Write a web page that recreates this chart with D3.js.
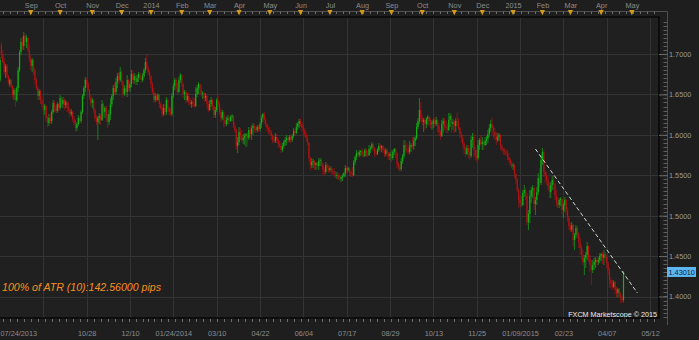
<!DOCTYPE html>
<html><head><meta charset="utf-8">
<script src="https://cdn.jsdelivr.net/npm/d3@7/dist/d3.min.js"></script>
<style>
html,body{margin:0;padding:0;background:#1e1e1e;overflow:hidden}
svg{display:block;font-family:"Liberation Sans",Arial,sans-serif}
</style></head><body>
<svg id="chart" width="699" height="340"></svg>
<script>
const opens=[
1.6678,1.7111,1.6988,1.6901,1.6777,1.6852,1.6728,1.6629,1.6678,1.6604,
1.6493,1.6555,1.6431,1.6579,1.6802,1.7025,1.7148,1.7099,1.7223,1.7148,
1.7198,1.7050,1.6951,1.6852,1.6926,1.6802,1.6678,1.6579,1.6481,1.6542,
1.6431,1.6381,1.6307,1.6357,1.6208,1.6146,1.6208,1.6171,1.6282,1.6394,
1.6332,1.6295,1.6381,1.6332,1.6456,1.6381,1.6431,1.6369,1.6406,1.6332,
1.6307,1.6258,1.6282,1.6196,1.6146,1.6084,1.6134,1.6208,1.6171,1.6282,
1.6481,1.6579,1.6678,1.6629,1.6555,1.6468,1.6394,1.6431,1.6307,1.6208,
1.6159,1.6208,1.6233,1.6183,1.6381,1.6282,1.6332,1.6233,1.6159,1.6258,
1.6381,1.6481,1.6579,1.6530,1.6654,1.6728,1.6678,1.6777,1.6654,1.6505,
1.6579,1.6530,1.6678,1.6579,1.6629,1.6753,1.6678,1.6728,1.6654,1.6703,
1.6753,1.6703,1.6678,1.6728,1.6802,1.6901,1.6827,1.6777,1.6728,1.6629,
1.6530,1.6431,1.6481,1.6431,1.6493,1.6381,1.6332,1.6258,1.6332,1.6282,
1.6431,1.6332,1.6282,1.6258,1.6481,1.6604,1.6678,1.6579,1.6530,1.6678,
1.6740,1.6629,1.6505,1.6530,1.6431,1.6481,1.6406,1.6381,1.6406,1.6381,
1.6357,1.6505,1.6579,1.6629,1.6555,1.6505,1.6518,1.6456,1.6481,1.6381,
1.6307,1.6381,1.6431,1.6357,1.6245,1.6307,1.6431,1.6381,1.6282,1.6208,
1.6282,1.6183,1.6134,1.6183,1.6208,1.6171,1.6221,1.6233,1.6109,1.6060,
1.5862,1.5911,1.6035,1.5985,1.5936,1.5961,1.5985,1.6010,1.5961,1.6060,
1.6010,1.6084,1.6109,1.6084,1.6060,1.6097,1.6072,1.6134,1.6208,1.6258,
1.6183,1.6134,1.6084,1.6060,1.6035,1.5985,1.5936,1.5923,1.5973,1.5936,
1.5886,1.5862,1.5812,1.5862,1.5911,1.5936,1.5961,1.5936,1.5973,1.5936,
1.5985,1.6047,1.6022,1.6097,1.6134,1.6171,1.6134,1.6084,1.6060,1.6010,
1.5961,1.5899,1.5713,1.5626,1.5664,1.5676,1.5626,1.5651,1.5614,1.5676,
1.5688,1.5639,1.5565,1.5540,1.5626,1.5589,1.5565,1.5589,1.5552,1.5540,
1.5515,1.5490,1.5503,1.5466,1.5453,1.5478,1.5490,1.5528,1.5589,1.5565,
1.5589,1.5540,1.5515,1.5503,1.5664,1.5726,1.5775,1.5750,1.5787,1.5800,
1.5750,1.5738,1.5812,1.5763,1.5750,1.5824,1.5837,1.5886,1.5837,1.5775,
1.5763,1.5812,1.5862,1.5837,1.5862,1.5812,1.5763,1.5812,1.5775,1.5738,
1.5763,1.5713,1.5787,1.5824,1.5775,1.5639,1.5602,1.5577,1.5676,1.5738,
1.5874,1.5824,1.5812,1.5787,1.5849,1.5874,1.5862,1.5923,1.5961,1.6097,
1.6171,1.6307,1.6208,1.6159,1.6183,1.6134,1.6196,1.6221,1.6171,1.6134,
1.6146,1.6171,1.6134,1.6183,1.6109,1.6035,1.5985,1.6134,1.6171,1.6109,
1.6084,1.6060,1.6183,1.6233,1.6134,1.6159,1.6109,1.6171,1.6159,1.6084,
1.6010,1.5961,1.5886,1.5812,1.5763,1.5837,1.5787,1.5738,1.5936,1.5973,
1.5812,1.5738,1.5713,1.5874,1.5936,1.5886,1.5911,1.5874,1.5923,1.5948,
1.6010,1.6084,1.6134,1.6084,1.6035,1.5985,1.5936,1.5973,1.5998,1.5862,
1.5824,1.5800,1.5787,1.5775,1.5726,1.5688,1.5639,1.5614,1.5626,1.5515,
1.5441,1.5317,1.5194,1.5156,1.5132,1.5280,1.5317,1.5243,1.4921,1.5020,
1.5243,1.5317,1.5342,1.5144,1.5194,1.5292,1.5466,1.5404,1.5688,1.5787,
1.5540,1.5490,1.5441,1.5367,1.5292,1.5379,1.5441,1.5391,1.5255,1.5156,
1.5132,1.5194,1.5206,1.5070,1.5132,1.5194,1.5070,1.4971,1.4872,1.4822,
1.4884,1.4699,1.4761,1.4847,1.4773,1.4674,1.4600,1.4513,1.4426,1.4476,
1.4513,1.4624,1.4476,1.4389,1.4327,1.4389,1.4426,1.4451,1.4426,1.4451,
1.4501,1.4525,1.4476,1.4525,1.4488,1.4414,1.4327,1.4204,1.4154,1.4117,
1.4179,1.4080,1.4043,1.4092,1.4030,1.3981,1.3956];

const highs=[
1.6963,1.7148,1.7050,1.6951,1.6876,1.6876,1.6740,1.6703,1.6691,1.6617,
1.6579,1.6579,1.6604,1.6839,1.7050,1.7198,1.7223,1.7272,1.7260,1.7235,
1.7210,1.7111,1.6988,1.6951,1.6938,1.6827,1.6703,1.6604,1.6567,1.6555,
1.6481,1.6406,1.6381,1.6369,1.6233,1.6258,1.6270,1.6307,1.6431,1.6419,
1.6369,1.6406,1.6394,1.6493,1.6481,1.6468,1.6456,1.6431,1.6419,1.6406,
1.6344,1.6320,1.6295,1.6233,1.6183,1.6159,1.6245,1.6233,1.6307,1.6505,
1.6604,1.6716,1.6703,1.6654,1.6567,1.6493,1.6456,1.6443,1.6332,1.6245,
1.6233,1.6270,1.6258,1.6431,1.6394,1.6357,1.6357,1.6258,1.6307,1.6456,
1.6505,1.6617,1.6641,1.6703,1.6765,1.6777,1.6839,1.6802,1.6678,1.6617,
1.6604,1.6740,1.6691,1.6654,1.6802,1.6802,1.6765,1.6753,1.6740,1.6777,
1.6777,1.6740,1.6765,1.6827,1.6951,1.6988,1.6852,1.6802,1.6740,1.6654,
1.6579,1.6518,1.6505,1.6518,1.6505,1.6406,1.6369,1.6381,1.6381,1.6468,
1.6456,1.6357,1.6332,1.6518,1.6641,1.6703,1.6703,1.6641,1.6716,1.6765,
1.6753,1.6641,1.6555,1.6555,1.6518,1.6530,1.6456,1.6431,1.6468,1.6456,
1.6592,1.6617,1.6654,1.6641,1.6617,1.6542,1.6530,1.6518,1.6493,1.6419,
1.6431,1.6468,1.6443,1.6369,1.6344,1.6456,1.6493,1.6406,1.6332,1.6307,
1.6307,1.6245,1.6221,1.6245,1.6233,1.6245,1.6258,1.6245,1.6159,1.6084,
1.5973,1.6097,1.6084,1.6060,1.6010,1.6022,1.6022,1.6035,1.6097,1.6097,
1.6121,1.6146,1.6134,1.6109,1.6121,1.6121,1.6159,1.6245,1.6270,1.6282,
1.6221,1.6146,1.6109,1.6097,1.6060,1.6010,1.5985,1.6022,1.6010,1.5961,
1.5923,1.5911,1.5899,1.5936,1.5973,1.5998,1.5985,1.5998,1.5998,1.6010,
1.6084,1.6072,1.6146,1.6159,1.6196,1.6208,1.6159,1.6121,1.6084,1.6035,
1.5985,1.5911,1.5726,1.5713,1.5701,1.5688,1.5664,1.5664,1.5713,1.5713,
1.5713,1.5651,1.5602,1.5664,1.5651,1.5626,1.5614,1.5614,1.5589,1.5589,
1.5552,1.5540,1.5528,1.5503,1.5490,1.5515,1.5540,1.5626,1.5614,1.5602,
1.5602,1.5565,1.5602,1.5688,1.5750,1.5812,1.5800,1.5812,1.5812,1.5837,
1.5787,1.5837,1.5824,1.5800,1.5874,1.5862,1.5911,1.5899,1.5849,1.5812,
1.5837,1.5899,1.5886,1.5874,1.5874,1.5837,1.5837,1.5824,1.5787,1.5787,
1.5812,1.5812,1.5837,1.5837,1.5787,1.5664,1.5639,1.5713,1.5763,1.5936,
1.5936,1.5899,1.5874,1.5923,1.5899,1.5973,1.5973,1.5985,1.6146,1.6208,
1.6456,1.6406,1.6245,1.6208,1.6208,1.6221,1.6245,1.6233,1.6208,1.6183,
1.6196,1.6221,1.6221,1.6196,1.6146,1.6060,1.6183,1.6208,1.6208,1.6183,
1.6134,1.6270,1.6270,1.6258,1.6196,1.6183,1.6208,1.6270,1.6208,1.6097,
1.6035,1.5998,1.5911,1.5849,1.5874,1.5874,1.5837,1.5985,1.6022,1.6022,
1.5849,1.5812,1.5936,1.5961,1.5998,1.5973,1.5936,1.5973,1.5985,1.6060,
1.6134,1.6183,1.6208,1.6121,1.6084,1.6035,1.6022,1.6022,1.6010,1.5886,
1.5837,1.5837,1.5824,1.5812,1.5775,1.5713,1.5676,1.5651,1.5639,1.5528,
1.5466,1.5342,1.5255,1.5243,1.5317,1.5379,1.5342,1.5280,1.5070,1.5317,
1.5354,1.5379,1.5367,1.5231,1.5354,1.5528,1.5589,1.5750,1.5837,1.5812,
1.5565,1.5540,1.5490,1.5416,1.5416,1.5490,1.5490,1.5404,1.5317,1.5231,
1.5218,1.5231,1.5218,1.5156,1.5231,1.5206,1.5107,1.4996,1.4909,1.4921,
1.4897,1.4785,1.4884,1.4872,1.4798,1.4723,1.4637,1.4575,1.4513,1.4550,
1.4674,1.4637,1.4525,1.4451,1.4451,1.4476,1.4488,1.4476,1.4488,1.4538,
1.4538,1.4550,1.4575,1.4550,1.4513,1.4426,1.4352,1.4241,1.4204,1.4204,
1.4191,1.4117,1.4105,1.4105,1.4055,1.4006,1.4315];

const lows=[
1.6654,1.6951,1.6889,1.6740,1.6703,1.6703,1.6617,1.6592,1.6579,1.6456,
1.6431,1.6344,1.6406,1.6530,1.6777,1.6988,1.7050,1.7050,1.7099,1.7074,
1.7025,1.6901,1.6802,1.6777,1.6740,1.6629,1.6555,1.6431,1.6431,1.6381,
1.6344,1.6270,1.6245,1.6159,1.6097,1.6109,1.6134,1.6134,1.6258,1.6282,
1.6270,1.6270,1.6295,1.6307,1.6344,1.6332,1.6307,1.6332,1.6282,1.6270,
1.6221,1.6233,1.6159,1.6121,1.6035,1.6047,1.6109,1.6134,1.6146,1.6258,
1.6443,1.6530,1.6579,1.6530,1.6431,1.6357,1.6332,1.6270,1.6171,1.6121,
1.5936,1.6134,1.6121,1.6171,1.6233,1.6208,1.6159,1.6084,1.6121,1.6183,
1.6344,1.6431,1.6493,1.6493,1.6579,1.6629,1.6654,1.6617,1.6456,1.6481,
1.6493,1.6468,1.6542,1.6530,1.6592,1.6641,1.6629,1.6617,1.6617,1.6654,
1.6678,1.6641,1.6654,1.6703,1.6765,1.6802,1.6740,1.6678,1.6579,1.6493,
1.6394,1.6406,1.6406,1.6419,1.6332,1.6307,1.6221,1.6233,1.6245,1.6245,
1.6282,1.6245,1.6233,1.6233,1.6456,1.6555,1.6530,1.6493,1.6518,1.6641,
1.6592,1.6456,1.6431,1.6394,1.6406,1.6369,1.6357,1.6332,1.6344,1.6332,
1.6344,1.6468,1.6505,1.6493,1.6468,1.6443,1.6406,1.6419,1.6332,1.6282,
1.6295,1.6344,1.6307,1.6208,1.6208,1.6282,1.6332,1.6245,1.6159,1.6183,
1.6097,1.6097,1.6109,1.6134,1.6134,1.6159,1.6171,1.6084,1.6035,1.5812,
1.5775,1.5874,1.5936,1.5911,1.5886,1.5874,1.5849,1.5862,1.5936,1.5961,
1.5936,1.5998,1.6035,1.6022,1.6035,1.6035,1.6047,1.6084,1.6159,1.6134,
1.6097,1.6035,1.6010,1.5998,1.5936,1.5899,1.5899,1.5899,1.5899,1.5837,
1.5837,1.5775,1.5787,1.5837,1.5862,1.5874,1.5899,1.5911,1.5899,1.5911,
1.5961,1.5985,1.6010,1.6060,1.6084,1.6097,1.6035,1.5998,1.5973,1.5911,
1.5874,1.5664,1.5565,1.5589,1.5589,1.5565,1.5565,1.5577,1.5565,1.5614,
1.5602,1.5503,1.5503,1.5515,1.5540,1.5528,1.5540,1.5515,1.5503,1.5478,
1.5466,1.5453,1.5441,1.5429,1.5416,1.5429,1.5466,1.5478,1.5515,1.5540,
1.5490,1.5478,1.5478,1.5490,1.5626,1.5688,1.5713,1.5726,1.5738,1.5726,
1.5713,1.5726,1.5726,1.5726,1.5738,1.5775,1.5812,1.5800,1.5726,1.5738,
1.5750,1.5787,1.5800,1.5787,1.5775,1.5726,1.5738,1.5726,1.5688,1.5688,
1.5664,1.5688,1.5750,1.5713,1.5589,1.5565,1.5540,1.5552,1.5639,1.5713,
1.5787,1.5775,1.5750,1.5763,1.5787,1.5824,1.5812,1.5862,1.5936,1.6072,
1.6134,1.6159,1.6121,1.6035,1.6060,1.6084,1.6121,1.6109,1.6084,1.6060,
1.6084,1.6097,1.6109,1.6035,1.5985,1.5936,1.5973,1.6022,1.6060,1.6022,
1.6022,1.6047,1.6097,1.6022,1.6060,1.6022,1.6035,1.6109,1.6060,1.5961,
1.5911,1.5849,1.5763,1.5726,1.5750,1.5713,1.5688,1.5713,1.5837,1.5726,
1.5688,1.5664,1.5688,1.5812,1.5862,1.5812,1.5812,1.5862,1.5874,1.5899,
1.5973,1.6035,1.5998,1.5961,1.5936,1.5874,1.5911,1.5923,1.5812,1.5787,
1.5750,1.5750,1.5738,1.5688,1.5664,1.5614,1.5589,1.5565,1.5466,1.5391,
1.5292,1.5095,1.5107,1.5107,1.5119,1.5231,1.5194,1.4884,1.4822,1.4909,
1.5156,1.5218,1.5070,1.5008,1.5132,1.5255,1.5354,1.5379,1.5626,1.5478,
1.5404,1.5379,1.5317,1.5218,1.5218,1.5317,1.5317,1.5194,1.5107,1.5095,
1.5095,1.5119,1.5020,1.4971,1.5045,1.5008,1.4921,1.4822,1.4798,1.4798,
1.4612,1.4575,1.4723,1.4723,1.4600,1.4513,1.4451,1.4389,1.4265,1.4352,
1.4451,1.4426,1.4303,1.4142,1.4290,1.4327,1.4352,1.4377,1.4389,1.4414,
1.4439,1.4402,1.4389,1.4451,1.4352,1.4265,1.4105,1.4105,1.4080,1.4105,
1.4030,1.3993,1.3993,1.3981,1.3919,1.3919,1.3931];

const closes=[
1.6926,1.6988,1.6901,1.6777,1.6852,1.6728,1.6654,1.6678,1.6604,1.6493,
1.6555,1.6431,1.6579,1.6802,1.7025,1.7148,1.7099,1.7223,1.7148,1.7198,
1.7050,1.6951,1.6852,1.6926,1.6802,1.6678,1.6579,1.6481,1.6542,1.6431,
1.6381,1.6307,1.6357,1.6208,1.6146,1.6208,1.6171,1.6282,1.6394,1.6332,
1.6295,1.6381,1.6332,1.6456,1.6381,1.6431,1.6369,1.6406,1.6332,1.6307,
1.6258,1.6282,1.6196,1.6146,1.6084,1.6134,1.6208,1.6171,1.6282,1.6481,
1.6579,1.6678,1.6629,1.6555,1.6468,1.6394,1.6431,1.6307,1.6208,1.6159,
1.6208,1.6233,1.6183,1.6381,1.6282,1.6332,1.6233,1.6159,1.6258,1.6381,
1.6481,1.6579,1.6530,1.6654,1.6728,1.6678,1.6777,1.6654,1.6505,1.6579,
1.6530,1.6678,1.6579,1.6629,1.6753,1.6678,1.6728,1.6654,1.6703,1.6753,
1.6703,1.6678,1.6728,1.6802,1.6901,1.6827,1.6777,1.6728,1.6629,1.6530,
1.6431,1.6481,1.6431,1.6493,1.6381,1.6332,1.6258,1.6332,1.6282,1.6431,
1.6332,1.6282,1.6258,1.6481,1.6604,1.6678,1.6579,1.6530,1.6678,1.6740,
1.6629,1.6505,1.6530,1.6431,1.6481,1.6406,1.6381,1.6406,1.6381,1.6357,
1.6505,1.6579,1.6629,1.6555,1.6505,1.6518,1.6456,1.6481,1.6381,1.6307,
1.6381,1.6431,1.6357,1.6245,1.6307,1.6431,1.6381,1.6282,1.6208,1.6282,
1.6183,1.6134,1.6183,1.6208,1.6171,1.6221,1.6233,1.6109,1.6060,1.5862,
1.5911,1.6035,1.5985,1.5936,1.5961,1.5985,1.6010,1.5961,1.6060,1.6010,
1.6084,1.6109,1.6084,1.6060,1.6097,1.6072,1.6134,1.6208,1.6258,1.6183,
1.6134,1.6084,1.6060,1.6035,1.5985,1.5936,1.5923,1.5973,1.5936,1.5886,
1.5862,1.5812,1.5862,1.5911,1.5936,1.5961,1.5936,1.5973,1.5936,1.5985,
1.6047,1.6022,1.6097,1.6134,1.6171,1.6134,1.6084,1.6060,1.6010,1.5961,
1.5899,1.5713,1.5626,1.5664,1.5676,1.5626,1.5651,1.5614,1.5676,1.5688,
1.5639,1.5565,1.5540,1.5626,1.5589,1.5565,1.5589,1.5552,1.5540,1.5515,
1.5490,1.5503,1.5466,1.5453,1.5478,1.5490,1.5528,1.5589,1.5565,1.5589,
1.5540,1.5515,1.5503,1.5664,1.5726,1.5775,1.5750,1.5787,1.5800,1.5750,
1.5738,1.5812,1.5763,1.5750,1.5824,1.5837,1.5886,1.5837,1.5775,1.5763,
1.5812,1.5862,1.5837,1.5862,1.5812,1.5763,1.5812,1.5775,1.5738,1.5763,
1.5713,1.5787,1.5824,1.5775,1.5639,1.5602,1.5577,1.5676,1.5738,1.5874,
1.5824,1.5812,1.5787,1.5849,1.5874,1.5862,1.5923,1.5961,1.6097,1.6171,
1.6307,1.6208,1.6159,1.6183,1.6134,1.6196,1.6221,1.6171,1.6134,1.6146,
1.6171,1.6134,1.6183,1.6109,1.6035,1.5985,1.6134,1.6171,1.6109,1.6084,
1.6060,1.6183,1.6233,1.6134,1.6159,1.6109,1.6171,1.6159,1.6084,1.6010,
1.5961,1.5886,1.5812,1.5763,1.5837,1.5787,1.5738,1.5936,1.5973,1.5812,
1.5738,1.5713,1.5874,1.5936,1.5886,1.5911,1.5874,1.5923,1.5948,1.6010,
1.6084,1.6134,1.6084,1.6035,1.5985,1.5936,1.5973,1.5998,1.5862,1.5824,
1.5800,1.5787,1.5775,1.5726,1.5688,1.5639,1.5614,1.5626,1.5515,1.5441,
1.5317,1.5194,1.5156,1.5132,1.5280,1.5317,1.5243,1.4921,1.5020,1.5243,
1.5317,1.5342,1.5144,1.5194,1.5292,1.5466,1.5404,1.5688,1.5787,1.5540,
1.5490,1.5441,1.5367,1.5292,1.5379,1.5441,1.5391,1.5255,1.5156,1.5132,
1.5194,1.5206,1.5070,1.5132,1.5194,1.5070,1.4971,1.4872,1.4822,1.4884,
1.4699,1.4761,1.4847,1.4773,1.4674,1.4600,1.4513,1.4426,1.4476,1.4513,
1.4624,1.4476,1.4389,1.4327,1.4389,1.4426,1.4451,1.4426,1.4451,1.4501,
1.4525,1.4476,1.4525,1.4488,1.4414,1.4327,1.4204,1.4154,1.4117,1.4179,
1.4080,1.4043,1.4092,1.4030,1.3981,1.3956,1.4301];

const monthNames=["Jan","Feb","Mar","Apr","May","Jun","Jul","Aug","Sep","Oct","Nov","Dec"];
const bottomLabels=["07/24/2013","","10/28","12/10","01/24/2014","03/10","04/22","06/04","07/17","08/29","10/13","11/25","01/09/2015","02/23","04/07","05/12"];
const priceTicks=[1.40,1.45,1.50,1.55,1.60,1.65,1.70];
const lastPrice=1.4301;
const lastPriceText="1.43010";
const trendBars=[383,456];
const trendPrices=[1.5825,1.4043];
const atrText="100% of ATR (10):142.56000 pips";
const copyrightText="FXCM Marketscope \u00A9 2015";
const firstBarDate=[2013,7,1];
const barsPerGridStep=31;

// trading calendar (weekdays, no Dec 25 / Jan 1) covering the visible window
const nSlots=472;
const dates=[];
{ let d=new Date(firstBarDate[0],firstBarDate[1],firstBarDate[2]);
  while(dates.length<nSlots){
    const wd=d.getDay(), md=(d.getMonth()+1)*100+d.getDate();
    if(wd!==0&&wd!==6&&md!==1225&&md!==101) dates.push(new Date(d));
    d.setDate(d.getDate()+1);
  } }

const W=699,H=340;
const P={l:0,t:17,r:659,b:318};
const svg=d3.select("#chart");
const x=d3.scaleLinear().domain([0,471.4]).range([P.l,P.r]);
const y=d3.scaleLinear().domain([1.40,1.70]).range([296.5,54]);

svg.append("rect").attr("width",W).attr("height",H).attr("fill","#1e1e1e");
svg.append("rect").attr("x",P.l).attr("y",P.t).attr("width",P.r-P.l).attr("height",P.b-P.t).attr("fill","#202020");
svg.append("defs").append("clipPath").attr("id","clip").append("rect")
  .attr("x",P.l).attr("y",P.t).attr("width",P.r-P.l).attr("height",P.b-P.t);
const g=svg.append("g").attr("clip-path","url(#clip)");

// grid
g.selectAll("line.hg").data(priceTicks).join("line").attr("class","hg")
  .attr("x1",P.l).attr("x2",P.r).attr("y1",d=>Math.round(y(d))+0.5).attr("y2",d=>Math.round(y(d))+0.5)
  .attr("stroke","#343434").attr("stroke-width",1);
const gridBars=d3.range(1,bottomLabels.length).map(k=>k*barsPerGridStep);
g.selectAll("line.vg").data(gridBars).join("line").attr("class","vg")
  .attr("x1",d=>Math.round(x(d))+0.5).attr("x2",d=>Math.round(x(d))+0.5).attr("y1",P.t).attr("y2",P.b)
  .attr("stroke","#343434").attr("stroke-width",1);

// candles
const bars=d3.range(closes.length).map(i=>({i,o:opens[i],h:highs[i],l:lows[i],c:closes[i]}));
const upC="#14b014", dnC="#b41212";
g.selectAll("rect.wick").data(bars).join("rect").attr("class","wick")
  .attr("x",d=>x(d.i)-0.5).attr("width",1)
  .attr("y",d=>y(d.h)).attr("height",d=>Math.max(1,y(d.l)-y(d.h)))
  .attr("fill",d=>d.c>=d.o?upC:dnC).attr("opacity",0.65);
g.selectAll("rect.body").data(bars).join("rect").attr("class","body")
  .attr("x",d=>x(d.i)-0.6).attr("width",1.2)
  .attr("y",d=>y(Math.max(d.o,d.c))).attr("height",d=>Math.max(1,Math.abs(y(d.o)-y(d.c))))
  .attr("fill",d=>d.c>=d.o?upC:dnC);

// trend line
g.append("line")
  .attr("x1",x(trendBars[0])).attr("y1",y(trendPrices[0]))
  .attr("x2",x(trendBars[1])).attr("y2",y(trendPrices[1]))
  .attr("stroke","#d2dccb").attr("stroke-width",1).attr("stroke-dasharray","4,2.5");

// texts inside plot
svg.append("text").attr("x",2).attr("y",290.5).attr("fill","#f7901e")
  .attr("font-size","10.6px").attr("font-style","italic").text(atrText);
svg.append("text").attr("x",657).attr("y",316.5).attr("text-anchor","end").attr("fill","#ececec")
  .attr("font-size","7.2px").text(copyrightText);

// frame
const frame=svg.append("g").attr("stroke","#080808").attr("stroke-width",1.6).attr("fill","none");
frame.append("line").attr("x1",0).attr("x2",P.r+0.8).attr("y1",P.t).attr("y2",P.t);
frame.append("line").attr("x1",P.r).attr("x2",P.r).attr("y1",P.t).attr("y2",P.b);
frame.append("line").attr("x1",0).attr("x2",P.r+0.8).attr("y1",P.b).attr("y2",P.b);

// outer axis lines
svg.append("line").attr("x1",0).attr("x2",667.5).attr("y1",11.5).attr("y2",11.5).attr("stroke","#4e4e4e");
svg.append("line").attr("x1",667.5).attr("x2",667.5).attr("y1",11.5).attr("y2",325).attr("stroke","#4e4e4e");

// weekly ticks (Mondays)
const mondays=d3.range(nSlots).filter(i=>dates[i].getDay()===1 && x(i)<P.r);
svg.selectAll("line.tt").data(mondays).join("line").attr("class","tt")
  .attr("x1",d=>Math.round(x(d))+0.5).attr("x2",d=>Math.round(x(d))+0.5).attr("y1",11.5).attr("y2",14)
  .attr("stroke","#6e6e6e");
svg.selectAll("line.bt").data(mondays).join("line").attr("class","bt")
  .attr("x1",d=>Math.round(x(d))+0.5).attr("x2",d=>Math.round(x(d))+0.5).attr("y1",P.b+1).attr("y2",P.b+4)
  .attr("stroke","#6e6e6e");

// top month axis
const monthStarts=d3.range(1,nSlots).filter(i=>dates[i].getMonth()!==dates[i-1].getMonth() && x(i)<P.r);
const topAxis=d3.axisTop(x).tickValues(monthStarts).tickSize(0).tickPadding(4)
  .tickFormat(i=>dates[i].getMonth()===0?String(dates[i].getFullYear()):monthNames[dates[i].getMonth()]);
const ta=svg.append("g").attr("transform","translate(0,11.5)").call(topAxis);
ta.select(".domain").remove();
ta.selectAll("text").attr("fill","#8c8c8c").attr("font-size","7.3px").attr("font-family","Liberation Sans, Arial, sans-serif");
svg.selectAll("path.tri").data(monthStarts).join("path").attr("class","tri")
  .attr("d",i=>{const cx=x(i);return `M${cx-2.6},10 L${cx+2.6},10 L${cx},15.2 Z`;})
  .attr("fill","#d49a17");

// bottom date axis
const bottomAxis=d3.axisBottom(x).tickValues([0].concat(gridBars))
  .tickSize(0).tickPadding(12.5).tickFormat(b=>bottomLabels[b/barsPerGridStep]);
const ba=svg.append("g").attr("transform",`translate(0,${P.b})`).call(bottomAxis);
ba.select(".domain").remove();
ba.selectAll("text").attr("fill","#8c8c8c").attr("font-size","7.3px").attr("font-family","Liberation Sans, Arial, sans-serif")
  .attr("text-anchor",b=>b===0?"start":"middle");

// right price axis
const minorTicks=d3.range(275,350).map(k=>k*0.005).filter(v=>y(v)>P.t+1&&y(v)<P.b-1);
svg.selectAll("line.rm").data(minorTicks).join("line").attr("class","rm")
  .attr("x1",663.5).attr("x2",667.5).attr("y1",d=>Math.round(y(d))+0.5).attr("y2",d=>Math.round(y(d))+0.5)
  .attr("stroke","#5e5e5e");
const rightAxis=d3.axisRight(y).tickValues(priceTicks).tickSize(8).tickPadding(2).tickFormat(d3.format(".4f"));
const ra=svg.append("g").attr("transform",`translate(${P.r},0)`).call(rightAxis);
ra.select(".domain").remove();
ra.selectAll("line").attr("stroke","#6a6a6a");
ra.selectAll("text").attr("fill","#9a9a9a").attr("font-size","7.3px").attr("font-family","Liberation Sans, Arial, sans-serif");

// last price marker
const ly=y(lastPrice);
svg.append("rect").attr("x",667).attr("y",ly-5.2).attr("width",29).attr("height",10).attr("fill","#5db6f2");
svg.append("text").attr("x",668.5).attr("y",ly+2.6).attr("fill","#0c2438").attr("font-size","7.3px").text(lastPriceText);
</script>
</body></html>
